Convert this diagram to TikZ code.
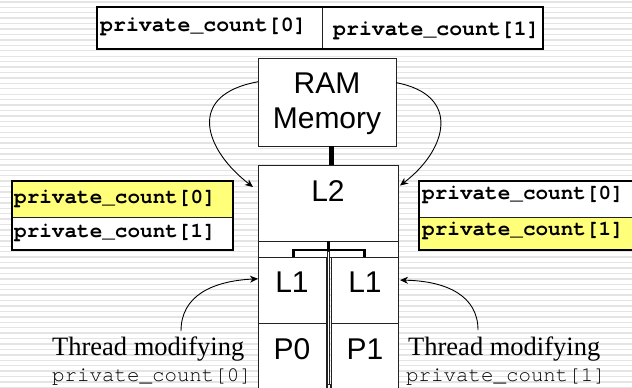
\documentclass[tikz,border=0pt]{standalone}
\usepackage{fontspec}
\setmainfont{Liberation Serif}
\newfontfamily\arialf{Liberation Sans}
\newfontfamily\courf{TeX Gyre Cursor}
\usetikzlibrary{arrows.meta,calc}
\definecolor{hiyel}{HTML}{FFFF7A}
\definecolor{stripe}{HTML}{E4E4E4}
\definecolor{edge}{HTML}{222222}
\tikzset{
  cell/.style={draw=edge, line width=1pt, anchor=north west, inner sep=0pt, outer sep=0pt},
  tabtxt/.style={font=\courf\bfseries\fontsize{21}{21}\selectfont, anchor=west, inner sep=0pt},
  hwtxt/.style={font=\arialf\fontsize{30}{35}\selectfont, inner sep=0pt, align=center},
  thrtxt/.style={font=\fontsize{26.5}{26.5}\selectfont, anchor=base west, inner sep=0pt},
  codetxt/.style={font=\courf\fontsize{20.8}{20.8}\selectfont, anchor=base west, inner sep=0pt},
  outline/.style={draw=black, line width=2.6pt},
  arr/.style={-{Stealth[length=8pt,width=7pt,inset=2.5pt]}, line width=0.9pt},
}
\begin{document}
\begin{tikzpicture}[x=1pt,y=-1pt]
\useasboundingbox (0,0) rectangle (632,388);
% background stripes
\fill[white] (0,0) rectangle (632,388);
\foreach \k in {0,...,72} {
  \fill[stripe] (0,{1.2+\k*5.43}) rectangle (632,{2.6+\k*5.43});
}
% top table
\node[cell, fill=white, minimum width=225pt, minimum height=42pt] (t0) at (97,7) {};
\node[cell, fill=white, minimum width=221pt, minimum height=42pt] (t1) at (322,7) {};
\draw[outline] (t0.north west) rectangle (t1.south east);
\node[tabtxt, font=\courf\bfseries\fontsize{21.5}{21.5}\selectfont] (t0txt) at (100,27) {private\_count[0]};
\node[tabtxt, font=\courf\bfseries\fontsize{21.5}{21.5}\selectfont] (t1txt) at (333,31) {private\_count[1]};
% RAM
\node[cell, fill=white, minimum width=138pt, minimum height=88pt] (ram) at (258,58) {};
\node[hwtxt] (ramtxt) at (327,104) {RAM\\Memory};
% L2 block
\node[cell, fill=white, minimum width=140pt, minimum height=76pt] (l2) at (258,165) {};
\node[hwtxt] (l2txt) at (328,191) {L2};
\node[cell, fill=white, minimum width=140pt, minimum height=16pt] (band) at (258,241) {};
\node[cell, fill=white, minimum width=68pt, minimum height=66pt] (l1a) at (258,257) {};
\node[cell, fill=white, minimum width=67pt, minimum height=66pt] (l1b) at (331,257) {};
\node[cell, fill=white, minimum width=68pt, minimum height=70pt] (p0) at (258,323) {};
\node[cell, fill=white, minimum width=67pt, minimum height=70pt] (p1) at (331,323) {};
\node[hwtxt] (l1atxt) at (292,282) {L1};
\node[hwtxt] (l1btxt) at (365,282) {L1};
\node[hwtxt] (p0txt) at (292,349) {P0};
\node[hwtxt] (p1txt) at (365,349) {P1};
% bus between columns
\node[cell, fill=white, minimum width=2.6pt, minimum height=134pt, line width=0.8pt] (bus) at (327.2,251) {};
\node[cell, fill=white, minimum width=3pt, minimum height=4pt, line width=0.8pt] (busend) at (327,384) {};
% bracket
\coordinate (brL) at (293.5,257);
\coordinate (brR) at (364.5,257);
\draw[line width=2.2pt, line join=miter] (brL) -- (293.5,250) -- (364.5,250) -- (brR);
\draw[line width=2.2pt] (l2.south) ++(0.5,0) -- ++(0,9);
% RAM to L2 connector
\draw[line width=5pt] (ram.south) ++(4,0) coordinate (rs) -- (rs |- l2.north);
% left table
\node[cell, fill=hiyel, minimum width=221pt, minimum height=36pt] (la) at (12,181) {};
\node[cell, fill=white, minimum width=221pt, minimum height=33pt] (lb) at (12,217) {};
\draw[outline] (la.north west) rectangle (lb.south east);
\node[tabtxt] (latxt) at (14,199) {private\_count[0]};
\node[tabtxt] (lbtxt) at (14,233) {private\_count[1]};
% right table
\node[cell, fill=white, minimum width=221pt, minimum height=36pt] (ra) at (419,181) {};
\node[cell, fill=hiyel, minimum width=221pt, minimum height=33pt] (rb) at (419,217) {};
\draw[outline] (ra.north west) rectangle (rb.south east);
\node[tabtxt] (ratxt) at (422,195) {private\_count[0]};
\node[tabtxt] (rbtxt) at (422,231) {private\_count[1]};
% bottom texts
\node[thrtxt] (thl) at (52,355) {Thread modifying};
\node[codetxt] (cl) at (52,381) {private\_count[0]};
\node[thrtxt] (thr) at (408,355) {Thread modifying};
\node[codetxt] (cr) at (406,381) {private\_count[1]};
% arrows
\coordinate (ramL) at ($(ram.north west)!0.27!(ram.south west)$);
\coordinate (ramR) at ($(ram.north east)!0.28!(ram.south east)$);
\coordinate (l2L) at ($(l2.north west)!0.29!(l2.south west)+(-5,0)$);
\coordinate (l2R) at ($(l2.north east)!0.27!(l2.south east)+(2,0)$);
\draw[arr] (ramL) .. controls (185,95) and (205,150) .. (l2L);
\draw[arr] (ramR) .. controls (462,95) and (447,150) .. (l2R);
\coordinate (thlTop) at (181,331);
\coordinate (thrTop) at (478,330);
\coordinate (l1aIn) at ($(l1a.north west)!0.33!(l1a.south west)$);
\coordinate (l1bIn) at ($(l1b.north east)!0.35!(l1b.south east)+(2,0)$);
\draw[arr] (thlTop) .. controls (181,296) and (212,281) .. (l1aIn);
\draw[arr] (thrTop) .. controls (478,296) and (447,281) .. (l1bIn);
\end{tikzpicture}
\end{document}
